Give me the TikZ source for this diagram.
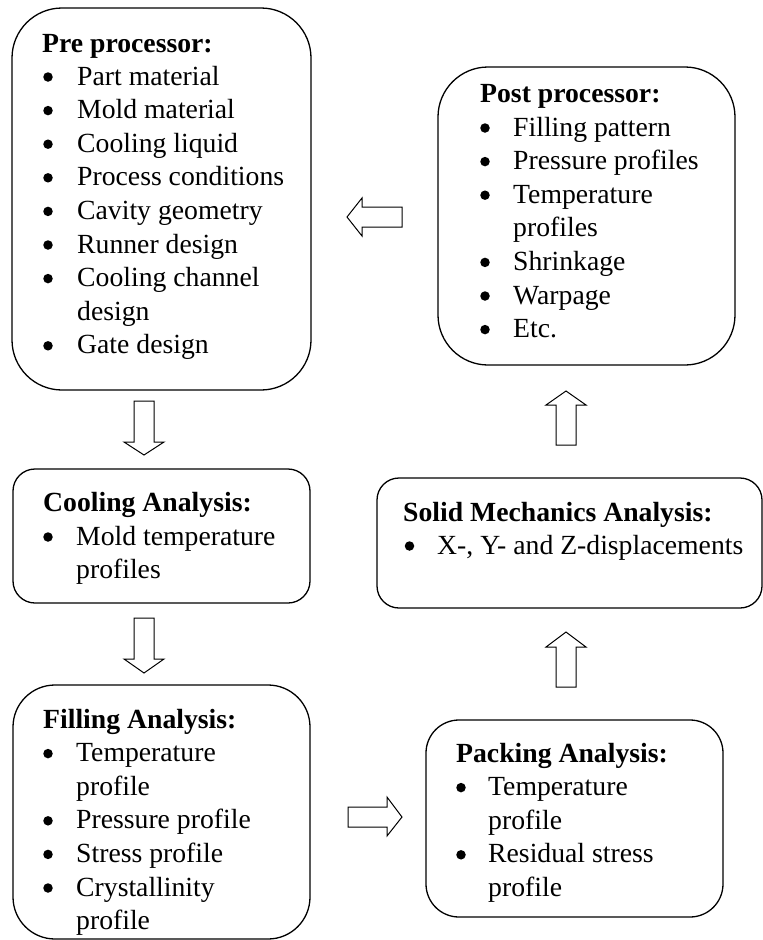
\documentclass[tikz,border=0pt]{standalone}
\usepackage{fontspec}
\setmainfont{Liberation Serif}
\begin{document}
\begin{tikzpicture}[x=1pt,y=-1pt,
  box/.style={draw, line width=1.3pt, rounded corners=#1, inner sep=0pt, outer sep=0pt},
  ttl/.style={anchor=base west, inner sep=0pt, font=\fontsize{27.7}{33.6}\selectfont\bfseries},
  txt/.style={anchor=base west, inner sep=0pt, font=\fontsize{27.7}{33.6}\selectfont},
  bul/.style={circle, fill=black, inner sep=0pt, outer sep=0pt, minimum size=9.5pt},
  blk/.style={draw, line width=1pt, fill=white, line join=miter}]
\useasboundingbox (0,0) rectangle (763,940);
\clip (0,0) rectangle (763,940);

% boxes
\node[box=50pt, minimum width=299pt, minimum height=382pt] (pre) at (161.5,199) {};
\node[box=50pt, minimum width=297pt, minimum height=298pt] (post) at (586.5,216) {};
\node[box=22pt, minimum width=297pt, minimum height=134pt] (cool) at (161.5,536) {};
\node[box=22pt, minimum width=385pt, minimum height=130pt] (solid) at (569.5,543) {};
\node[box=42pt, minimum width=297pt, minimum height=254pt] (fill) at (161.5,812) {};
\node[box=33pt, minimum width=297pt, minimum height=197pt] (pack) at (574.5,818.5) {};

% Pre processor
\node[ttl] (pret) at (42,52) {Pre processor:};
\foreach \t/\b [count=\i from 0] in {Part material/1, Mold material/1, Cooling liquid/1, Process conditions/1, Cavity geometry/1, Runner design/1, Cooling channel/1, design/0, Gate design/1}{
  \node[txt] (pre\i) at (77,85+33.6*\i) {\t};
  \ifnum\b=1 \node[bul] (preb\i) at (48,77+33.6*\i) {}; \fi
}

% Post processor
\node[ttl] (postt) at (480,102) {Post processor:};
\foreach \t/\b [count=\i from 0] in {Filling pattern/1, Pressure profiles/1, Temperature/1, profiles/0, Shrinkage/1, Warpage/1, Etc./1}{
  \node[txt] (post\i) at (513,136+33.6*\i) {\t};
  \ifnum\b=1 \node[bul] (postb\i) at (485,128+33.6*\i) {}; \fi
}

% Cooling
\node[ttl] (coolt) at (43,511) {Cooling Analysis:};
\node[bul] (coolb0) at (48,537) {};
\node[txt] (cool0) at (76,545) {Mold temperature};
\node[txt] (cool1) at (76,578.6) {profiles};

% Solid mechanics
\node[ttl] (solidt) at (403,521) {Solid Mechanics Analysis:};
\node[bul] (solidb0) at (409.5,546) {};
\node[txt] (solid0) at (437,554) {X-, Y- and Z-displacements};

% Filling
\node[ttl] (fillt) at (43,728) {Filling Analysis:};
\foreach \t/\b [count=\i from 0] in {Temperature/1, profile/0, Pressure profile/1, Stress profile/1, Crystallinity/1, profile/0}{
  \node[txt] (fill\i) at (76,761.6+33.6*\i) {\t};
  \ifnum\b=1 \node[bul] (fillb\i) at (48,753.6+33.6*\i) {}; \fi
}

% Packing
\node[ttl] (packt) at (456,762) {Packing Analysis:};
\foreach \t/\b [count=\i from 0] in {Temperature/1, profile/0, Residual stress/1, profile/0}{
  \node[txt] (pack\i) at (488,795.6+33.6*\i) {\t};
  \ifnum\b=1 \node[bul] (packb\i) at (461,787.6+33.6*\i) {}; \fi
}

% block arrows
\draw[blk] (347,217) -- (362,198) -- (362,207) -- (402,207) -- (402,227) -- (362,227) -- (362,236) -- cycle;
\draw[blk] (144,455) -- (124,442) -- (134,442) -- (134,401) -- (154,401) -- (154,442) -- (164,442) -- cycle;
\draw[blk] (144,673) -- (124,659) -- (134,659) -- (134,618) -- (154,618) -- (154,659) -- (164,659) -- cycle;
\draw[blk] (402,817) -- (387,797) -- (387,807) -- (348,807) -- (348,827) -- (387,827) -- (387,836) -- cycle;
\draw[blk] (566,391) -- (546,405) -- (556,405) -- (556,445) -- (576,445) -- (576,405) -- (586,405) -- cycle;
\draw[blk] (566,632) -- (546,647) -- (556,647) -- (556,687) -- (576,687) -- (576,647) -- (586,647) -- cycle;
\end{tikzpicture}
\end{document}
